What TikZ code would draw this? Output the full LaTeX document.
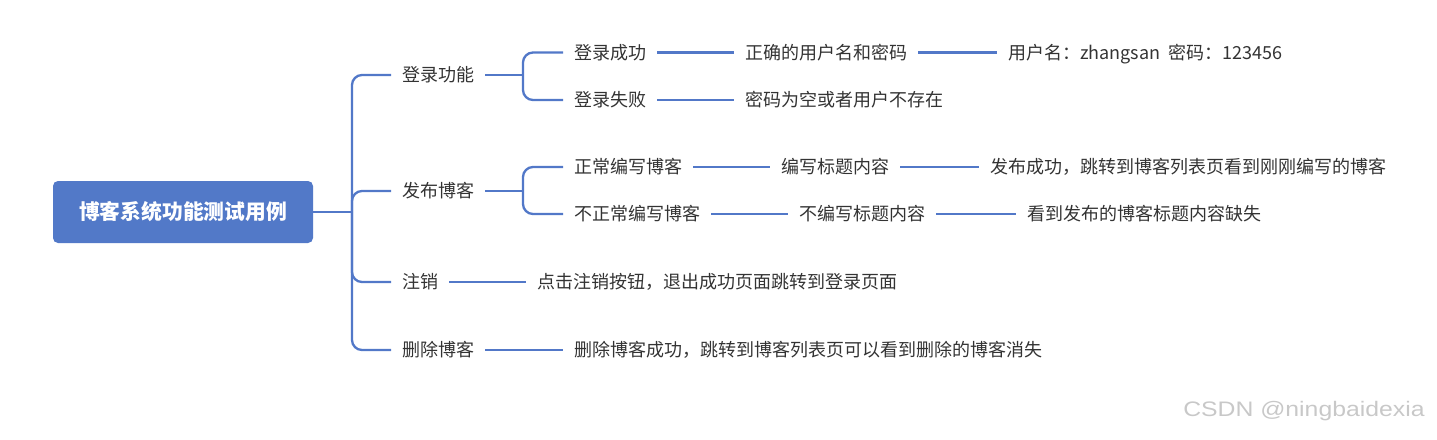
\documentclass[tikz,border=0pt]{standalone}
\usepackage{fontspec}
\setmainfont{Noto Sans CJK SC}
\newfontfamily\wmfont{Liberation Sans}
\definecolor{lineblue}{RGB}{82,120,200}
\definecolor{rootblue}{RGB}{82,121,200}
\definecolor{txtgray}{RGB}{51,51,51}
\definecolor{wmgray}{RGB}{200,200,200}
\begin{document}
\begin{tikzpicture}[x=1pt,y=-1pt,
  lbl/.style={anchor=west, inner xsep=11pt, inner ysep=0pt, text height=15.6pt, text depth=2.2pt,
    font=\fontsize{18}{20}\selectfont, text=txtgray},
  rootbox/.style={fill=rootblue, rounded corners=5pt, minimum width=260pt, minimum height=62pt,
    inner sep=0pt, text height=18.2pt, text depth=2.8pt, text=white, font=\fontsize{20.8}{24}\selectfont\bfseries},
  conn/.style={draw=lineblue, line width=2.3pt, rounded corners=10pt},
  wm/.style={anchor=west, inner sep=0pt, text=wmgray, font=\wmfont\fontsize{21}{24}\selectfont}]
\useasboundingbox (0,0) rectangle (1437,439);

% root
\node[rootbox] (root) at (183,212) {博客系统功能测试用例};
\coordinate (t) at (352,212);

% level 1
\node[lbl] (a) at (391,75) {登录功能};
\node[lbl] (b) at (391,191) {发布博客};
\node[lbl] (c) at (391,282) {注销};
\node[lbl] (d) at (391,350) {删除博客};

% level 2
\node[lbl] (a1) at (563,52.5) {登录成功};
\node[lbl] (a2) at (563,100) {登录失败};
\node[lbl] (b1) at (563,167) {正常编写博客};
\node[lbl] (b2) at (563,214) {不正常编写博客};
\node[lbl] (c1) at (526,282) {点击注销按钮，退出成功页面跳转到登录页面};
\node[lbl] (d1) at (563,350) {删除博客成功，跳转到博客列表页可以看到删除的博客消失};

% level 3
\node[lbl] (a11) at (734,52.5) {正确的用户名和密码};
\node[lbl] (a21) at (734,100) {密码为空或者用户不存在};
\node[lbl] (b11) at (770,167) {编写标题内容};
\node[lbl] (b21) at (788,214) {不编写标题内容};

% level 4
\node[lbl] (a111) at (997,52.5) {用户名：zhangsan\ \ 密码：123456};
\node[lbl] (b111) at (979,167) {发布成功，跳转到博客列表页看到刚刚编写的博客};
\node[lbl] (b211) at (1016,214) {看到发布的博客标题内容缺失};

% trunk
\draw[conn] (root.east) -- (t);
\draw[conn] (a.west) -| (t) |- (d.west);
\draw[conn] (t) |- (b.west);
\draw[conn] (t) |- (c.west);

% brackets
\coordinate (ja) at (523,75);
\coordinate (jb) at (523,191);
\draw[conn] (a.east) -- (ja);
\draw[conn] (a1.west) -| (ja) |- (a2.west);
\draw[conn] (b.east) -- (jb);
\draw[conn] (b1.west) -| (jb) |- (b2.west);

% straight connectors
\draw[conn] (c.east) -- (c1.west);
\draw[conn] (d.east) -- (d1.west);
\draw[conn] (a1.east) -- (a11.west);
\draw[conn] (a2.east) -- (a21.west);
\draw[conn] (b1.east) -- (b11.west);
\draw[conn] (b2.east) -- (b21.west);
\draw[conn] (a11.east) -- (a111.west);
\draw[conn] (b11.east) -- (b111.west);
\draw[conn] (b21.east) -- (b211.west);

% watermark
\node[wm, xscale=1.18, transform shape] (wmk) at (1183,411) {CSDN @ningbaidexia};
\end{tikzpicture}
\end{document}
